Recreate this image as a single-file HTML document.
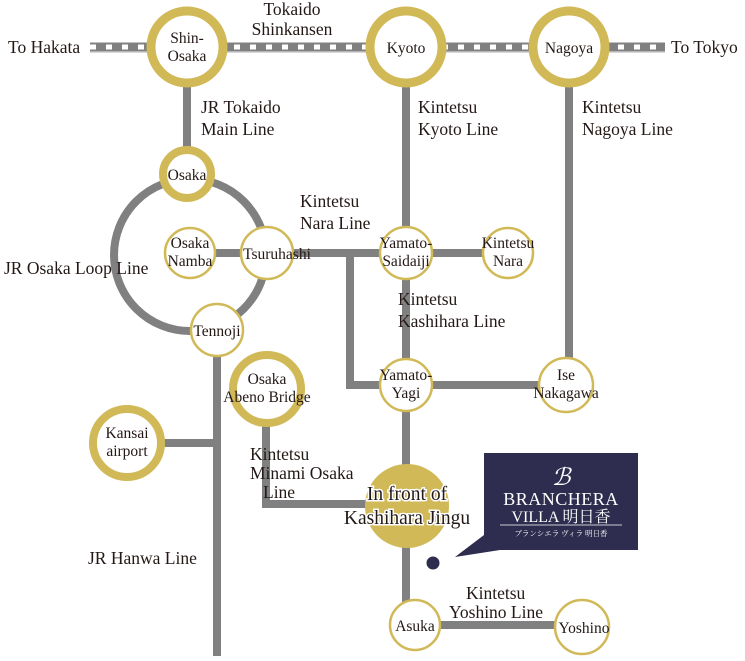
<!DOCTYPE html>
<html><head><meta charset="utf-8"><style>
html,body{margin:0;padding:0;background:#fff;}
svg text{font-family:"Liberation Serif","Noto Serif CJK SC",serif;fill:#231815;}
</style></head><body>
<svg width="745" height="656" viewBox="0 0 745 656" xmlns="http://www.w3.org/2000/svg">
<g stroke="#808080" stroke-width="8" fill="none">
<line x1="90" y1="47" x2="665" y2="47" stroke="#808080" stroke-width="9"/>
<line x1="90" y1="47" x2="665" y2="47" stroke="#fff" stroke-width="5" stroke-dasharray="6 10"/>
<line x1="90" y1="52" x2="665" y2="52" stroke="#c8c8c8" stroke-width="1.5"/>
<line x1="187" y1="80" x2="187" y2="150"/>
<line x1="406" y1="80" x2="406" y2="625"/>
<line x1="569" y1="80" x2="569" y2="385"/>
<circle cx="190" cy="255" r="76"/>
<line x1="190" y1="253" x2="267" y2="253"/>
<line x1="267" y1="253" x2="508" y2="253"/>
<polyline points="350,253 350,385 566,385"/>
<line x1="217" y1="330" x2="217" y2="656"/>
<line x1="127" y1="443" x2="217" y2="443"/>
<polyline points="266,420 266,504 407,504"/>
<line x1="415" y1="625" x2="582" y2="625"/>
</g>
<g fill="#fff" stroke="#d1b957">
<circle cx="187" cy="47" r="36" stroke-width="9"/>
<circle cx="406" cy="47" r="36" stroke-width="9"/>
<circle cx="569" cy="47" r="36" stroke-width="9"/>
<circle cx="187" cy="174" r="24" stroke-width="8"/>
<circle cx="190" cy="253" r="25" stroke-width="2.5"/>
<circle cx="267" cy="253" r="26" stroke-width="2.5"/>
<circle cx="217" cy="330" r="26" stroke-width="2.5"/>
<circle cx="406" cy="253" r="26" stroke-width="2.5"/>
<circle cx="508" cy="253" r="25" stroke-width="2.5"/>
<circle cx="406" cy="385" r="26" stroke-width="2.5"/>
<circle cx="566" cy="385" r="27" stroke-width="2.5"/>
<circle cx="267" cy="389" r="34" stroke-width="8"/>
<circle cx="127" cy="443" r="34" stroke-width="8"/>
<circle cx="407" cy="506" r="42" fill="#d1b957" stroke="none"/>
<circle cx="415" cy="625" r="25" stroke-width="2.5"/>
<circle cx="582" cy="627" r="27" stroke-width="2.5"/>
</g>
<polygon points="484,453 638,453 638,550 500,550 455,557 484,535" fill="#2e2d4f"/>
<circle cx="433" cy="563" r="6.5" fill="#2e2d4f"/>
<text x="561" y="485" text-anchor="middle" font-size="24" font-style="italic" style="fill:#fff">ℬ</text>
<text x="561" y="505" text-anchor="middle" font-size="18" style="fill:#fff" letter-spacing="0.5">BRANCHERA</text>
<text x="561" y="522" text-anchor="middle" font-size="16" style="fill:#fff">VILLA 明日香</text>
<line x1="500" y1="525" x2="622" y2="525" stroke="#fff" stroke-width="0.8"/>
<text x="561" y="536" text-anchor="middle" font-size="7.5" style="fill:#fff">ブランシエラ ヴィラ 明日香</text>
<g font-size="17.5">
<text x="8" y="53">To Hakata</text>
<text x="671" y="53">To Tokyo</text>
<text x="292" y="15" text-anchor="middle">Tokaido</text>
<text x="292" y="35" text-anchor="middle">Shinkansen</text>
<text x="201" y="113">JR Tokaido</text>
<text x="201" y="135">Main Line</text>
<text x="418" y="113">Kintetsu</text>
<text x="418" y="135">Kyoto Line</text>
<text x="582" y="113">Kintetsu</text>
<text x="582" y="135">Nagoya Line</text>
<text x="300" y="207">Kintetsu</text>
<text x="300" y="229">Nara Line</text>
<text x="4" y="274">JR Osaka Loop Line</text>
<text x="398" y="305">Kintetsu</text>
<text x="398" y="327">Kashihara Line</text>
<text x="250" y="460">Kintetsu</text>
<text x="250" y="479">Minami Osaka</text>
<text x="263" y="498">Line</text>
<text x="88" y="564">JR Hanwa Line</text>
<text x="466" y="599">Kintetsu</text>
<text x="449" y="618">Yoshino Line</text>
</g>
<g font-size="15.5" text-anchor="middle">
<text x="187" y="43">Shin-</text><text x="187" y="61">Osaka</text>
<text x="406" y="53">Kyoto</text>
<text x="569" y="53">Nagoya</text>
<text x="187" y="180">Osaka</text>
<text x="190" y="248">Osaka</text><text x="190" y="266">Namba</text>
<text x="277" y="259">Tsuruhashi</text>
<text x="217" y="336">Tennoji</text>
<text x="406" y="248">Yamato-</text><text x="406" y="266">Saidaiji</text>
<text x="508" y="248">Kintetsu</text><text x="508" y="266">Nara</text>
<text x="406" y="380">Yamato-</text><text x="406" y="398">Yagi</text>
<text x="566" y="380">Ise</text><text x="566" y="398">Nakagawa</text>
<text x="267" y="384">Osaka</text><text x="267" y="402">Abeno Bridge</text>
<text x="127" y="438">Kansai</text><text x="127" y="456">airport</text>
<text x="415" y="631">Asuka</text>
<text x="584" y="633">Yoshino</text>
</g>
<g font-size="19.5" text-anchor="middle" stroke="#fff" stroke-width="3" paint-order="stroke">
<text x="407" y="500">In front of</text>
<text x="407" y="524">Kashihara Jingu</text>
</g>
</svg>
</body></html>
